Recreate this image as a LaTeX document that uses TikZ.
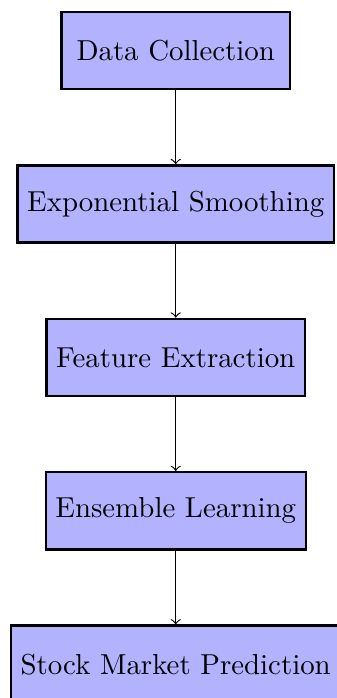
\documentclass[tikz,border=0pt]{standalone}
\usetikzlibrary{positioning}

\tikzset{
    stage/.style={draw, thick, fill=blue!30, minimum height=0.94cm, minimum width=2.78cm},
    flow/.style={->, thin}
}

\begin{document}
\begin{tikzpicture}[node distance=0.9cm]

    % Fix the frame of the picture
    \useasboundingbox (-2.14, 0.616) rectangle (1.96, -7.884);

    % Draw the stages
    \node[stage] (collect) at (0, 0) {Data Collection};
    \node[stage, below=of collect] (smooth) {Exponential Smoothing};
    \node[stage, below=of smooth] (feature) {Feature Extraction};
    \node[stage, below=of feature] (ensemble) {Ensemble Learning};
    \node[stage, below=of ensemble] (predict) {Stock Market Prediction};

    % Draw the arrows between them
    \draw[flow] (collect) -- (smooth);
    \draw[flow] (smooth) -- (feature);
    \draw[flow] (feature) -- (ensemble);
    \draw[flow] (ensemble) -- (predict);

\end{tikzpicture}
\end{document}
